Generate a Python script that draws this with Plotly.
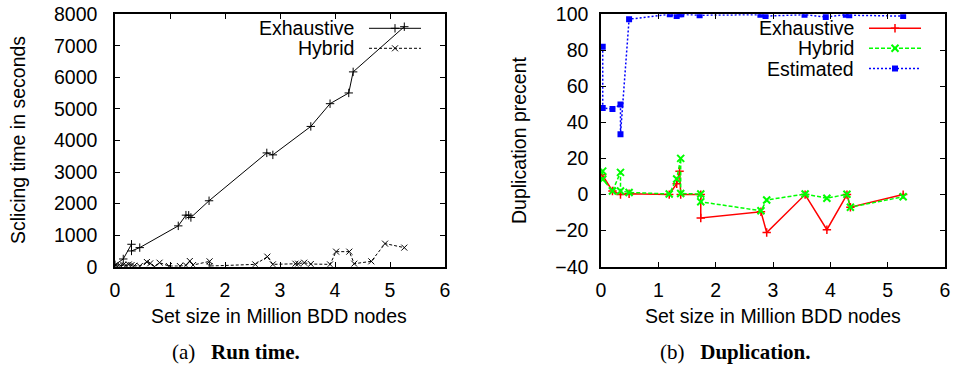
import plotly.graph_objects as go

# ---------------- data ----------------
# (a) Run time
rt_exh_x = [0.00, 0.15, 0.30, 0.30, 0.45, 1.15, 1.29, 1.34, 1.38, 1.71, 2.76, 2.87, 3.56, 3.91, 4.25, 4.33, 5.26]
rt_exh_y = [60, 245, 711, 499, 605, 1294, 1634, 1630, 1560, 2090, 3607, 3544, 4446, 5167, 5507, 6175, 7607]
rt_hyb_x = [0.00, 0.05, 0.10, 0.15, 0.20, 0.25, 0.30, 0.35, 0.45, 0.58, 0.64, 0.72, 0.81, 0.98, 1.18,
            1.29, 1.36, 1.42, 1.72, 1.72, 2.55, 2.77, 2.87, 3.28, 3.33, 3.44, 3.56, 3.91, 4.02, 4.26,
            4.35, 4.66, 4.91, 5.26]
rt_hyb_y = [40, 10, 30, 60, 40, 70, 50, 30, 20, 149, 106, 0, 127, 21, 21,
            42, 180, 53, 170, 21, 74, 318, 74, 95, 95, 127, 85, 74, 477, 477,
            95, 170, 732, 605]

# (b) Duplication
dup_exh_x = [0.02, 0.20, 0.34, 0.49, 1.19, 1.32, 1.37, 1.39, 1.74, 1.74, 2.79, 2.89, 3.56, 3.94, 4.29, 4.35, 5.27]
dup_exh_y = [11, 2, 0, 0.5, 0, 6, 13, 0, 0, -13, -9.5, -21, 0, -19.5, 0, -7, 0]
dup_hyb_x = [0.03, 0.03, 0.20, 0.34, 0.34, 0.49, 1.19, 1.32, 1.39, 1.39, 1.74, 1.74, 2.79, 2.89,
             3.56, 3.94, 4.29, 4.35, 5.27]
dup_hyb_y = [13, 8.5, 2, 12.3, 2, 1.2, 0.3, 8.6, 20.1, 0.6, 0.3, -4, -9, -3,
             0.3, -2, 0.2, -7, -1.2]
dup_est_x = [0.03, 0.03, 0.20, 0.34, 0.34, 0.49, 1.20, 1.32, 1.37, 1.40, 1.72, 2.78, 2.87,
             3.55, 3.92, 4.27, 4.33, 5.27]
dup_est_y = [82, 48, 47.5, 50, 33.5, 97.3, 100, 99, 100, 100, 99.5, 99.8, 99,
             99.8, 98.5, 99.8, 99.5, 99]

x_ticks = [0, 1, 2, 3, 4, 5, 6]
rt_ticks = [0, 1000, 2000, 3000, 4000, 5000, 6000, 7000, 8000]
dup_ticks = [-40, -20, 0, 20, 40, 60, 80, 100]

# ---------------- styling ----------------
W, H = 953, 367
SANS = "Liberation Sans, Arial, sans-serif"
SERIF = "Liberation Serif, Times New Roman, serif"
FS = 19.5
RED, GREEN, BLUE = "#ff0000", "#00ff00", "#0000ff"

# plot areas in pixels
L = dict(x0=115, x1=445)
R = dict(x0=601, x1=945)
Y0, Y1 = 14.3, 266.7


def dom_x(a, b):
    return [a / W, b / W]


ydom = [(H - Y1) / H, (H - Y0) / H]

fig = go.Figure()

# (a) traces
fig.add_trace(go.Scatter(x=rt_exh_x, y=rt_exh_y, mode="lines+markers", xaxis="x", yaxis="y",
                         line=dict(color="black", width=1),
                         marker=dict(symbol="cross-thin", size=6, line=dict(color="black", width=1))))
fig.add_trace(go.Scatter(x=rt_hyb_x, y=rt_hyb_y, mode="lines+markers", xaxis="x", yaxis="y",
                         line=dict(color="black", width=1, dash="3px,2px"),
                         marker=dict(symbol="x-thin", size=6, line=dict(color="black", width=1))))

# (b) traces
fig.add_trace(go.Scatter(x=dup_exh_x, y=dup_exh_y, mode="lines+markers", xaxis="x2", yaxis="y2",
                         line=dict(color=RED, width=1.5),
                         marker=dict(symbol="cross-thin", size=6, line=dict(color=RED, width=1.5))))
fig.add_trace(go.Scatter(x=dup_hyb_x, y=dup_hyb_y, mode="lines+markers", xaxis="x2", yaxis="y2",
                         line=dict(color=GREEN, width=1.5, dash="4px,2px"),
                         marker=dict(symbol="x-thin", size=7, line=dict(color=GREEN, width=2))))
fig.add_trace(go.Scatter(x=dup_est_x, y=dup_est_y, mode="lines+markers", xaxis="x2", yaxis="y2",
                         line=dict(color=BLUE, width=1.5, dash="2px,2px"),
                         marker=dict(symbol="square", size=6, color=BLUE)))

# ---------------- gnuplot-style keys ----------------
keys = [
    # (text, text_right_x, sample_x0, sample_x1, y, color, dash, symbol, msize, mlw)
    ("Exhaustive", 356, 369, 421, 28.3, "black", "solid", "cross-thin", 6, 1),
    ("Hybrid", 356, 369, 421, 48.3, "black", "3px,2px", "x-thin", 6, 1),
    ("Exhaustive", 856, 869, 921, 28.3, RED, "solid", "cross-thin", 6, 1.5),
    ("Hybrid", 856, 869, 921, 48.3, GREEN, "4px,2px", "x-thin", 7, 2),
    ("Estimated", 856, 869, 921, 68.5, BLUE, "2px,2px", "square", 6, 0),
]
annotations = []
for text, tx, sx0, sx1, ky, col, dash, sym, ms, mlw in keys:
    lw = 1 if col == "black" else 1.5
    fig.add_trace(go.Scatter(x=[sx0, sx1], y=[ky, ky], mode="lines", xaxis="x3", yaxis="y3",
                             line=dict(color=col, width=lw, dash=dash), hoverinfo="skip"))
    mk = dict(symbol=sym, size=ms, color=col)
    if mlw:
        mk["line"] = dict(color=col, width=mlw)
    fig.add_trace(go.Scatter(x=[(sx0 + sx1) / 2], y=[ky], mode="markers", xaxis="x3", yaxis="y3",
                             marker=mk, hoverinfo="skip"))
    annotations.append(dict(text=text, x=tx, y=ky, xref="x3", yref="y3", xanchor="right",
                            yanchor="middle", showarrow=False,
                            font=dict(family=SANS, size=FS, color="black")))

# axis titles and captions
annotations += [
    dict(text="Sclicing time in seconds", x=18, y=140, xref="x3", yref="y3", textangle=-90,
         showarrow=False, xanchor="center", yanchor="middle", font=dict(family=SANS, size=FS, color="black")),
    dict(text="Duplication precent", x=519, y=140, xref="x3", yref="y3", textangle=-90,
         showarrow=False, xanchor="center", yanchor="middle", font=dict(family=SANS, size=FS, color="black")),
    dict(text="Set size in Million BDD nodes", x=279, y=316, xref="x3", yref="y3",
         showarrow=False, xanchor="center", yanchor="middle", font=dict(family=SANS, size=FS, color="black")),
    dict(text="Set size in Million BDD nodes", x=773, y=316, xref="x3", yref="y3",
         showarrow=False, xanchor="center", yanchor="middle", font=dict(family=SANS, size=FS, color="black")),
    dict(text="(a)\u00a0\u00a0\u00a0<b>Run time.</b>", x=236, y=352, xref="x3", yref="y3",
         showarrow=False, xanchor="center", yanchor="middle", font=dict(family=SERIF, size=21, color="black")),
    dict(text="(b)\u00a0\u00a0\u00a0<b>Duplication.</b>", x=735, y=352, xref="x3", yref="y3",
         showarrow=False, xanchor="center", yanchor="middle", font=dict(family=SERIF, size=21, color="black")),
]

axis_common = dict(showline=True, linecolor="black", linewidth=1.5, mirror="allticks",
                   ticks="inside", ticklen=5, tickwidth=1, tickcolor="black",
                   showgrid=False, zeroline=False, automargin=False,
                   tickfont=dict(family=SANS, size=FS, color="black"))

fig.update_layout(
    template="none",
    width=W, height=H,
    margin=dict(l=0, r=0, t=0, b=0, pad=0, autoexpand=False),
    paper_bgcolor="white", plot_bgcolor="rgba(0,0,0,0)",
    showlegend=False,
    xaxis=dict(domain=dom_x(L["x0"], L["x1"]), anchor="y", range=[0, 6], tickvals=x_ticks,
               ticklabelstandoff=5, **axis_common),
    yaxis=dict(domain=ydom, anchor="x", range=[0, 8000], tickvals=rt_ticks,
               ticklabelstandoff=12, **axis_common),
    xaxis2=dict(domain=dom_x(R["x0"], R["x1"]), anchor="y2", range=[0, 6], tickvals=x_ticks,
                ticklabelstandoff=5, **axis_common),
    yaxis2=dict(domain=ydom, anchor="x2", range=[-40, 100], tickvals=dup_ticks,
                ticklabelstandoff=7, **axis_common),
    xaxis3=dict(domain=[0, 1], anchor="y3", range=[0, W], visible=False, automargin=False),
    yaxis3=dict(domain=[0, 1], anchor="x3", range=[H, 0], visible=False, automargin=False),
    annotations=annotations,
)

fig.write_html("out.html")
